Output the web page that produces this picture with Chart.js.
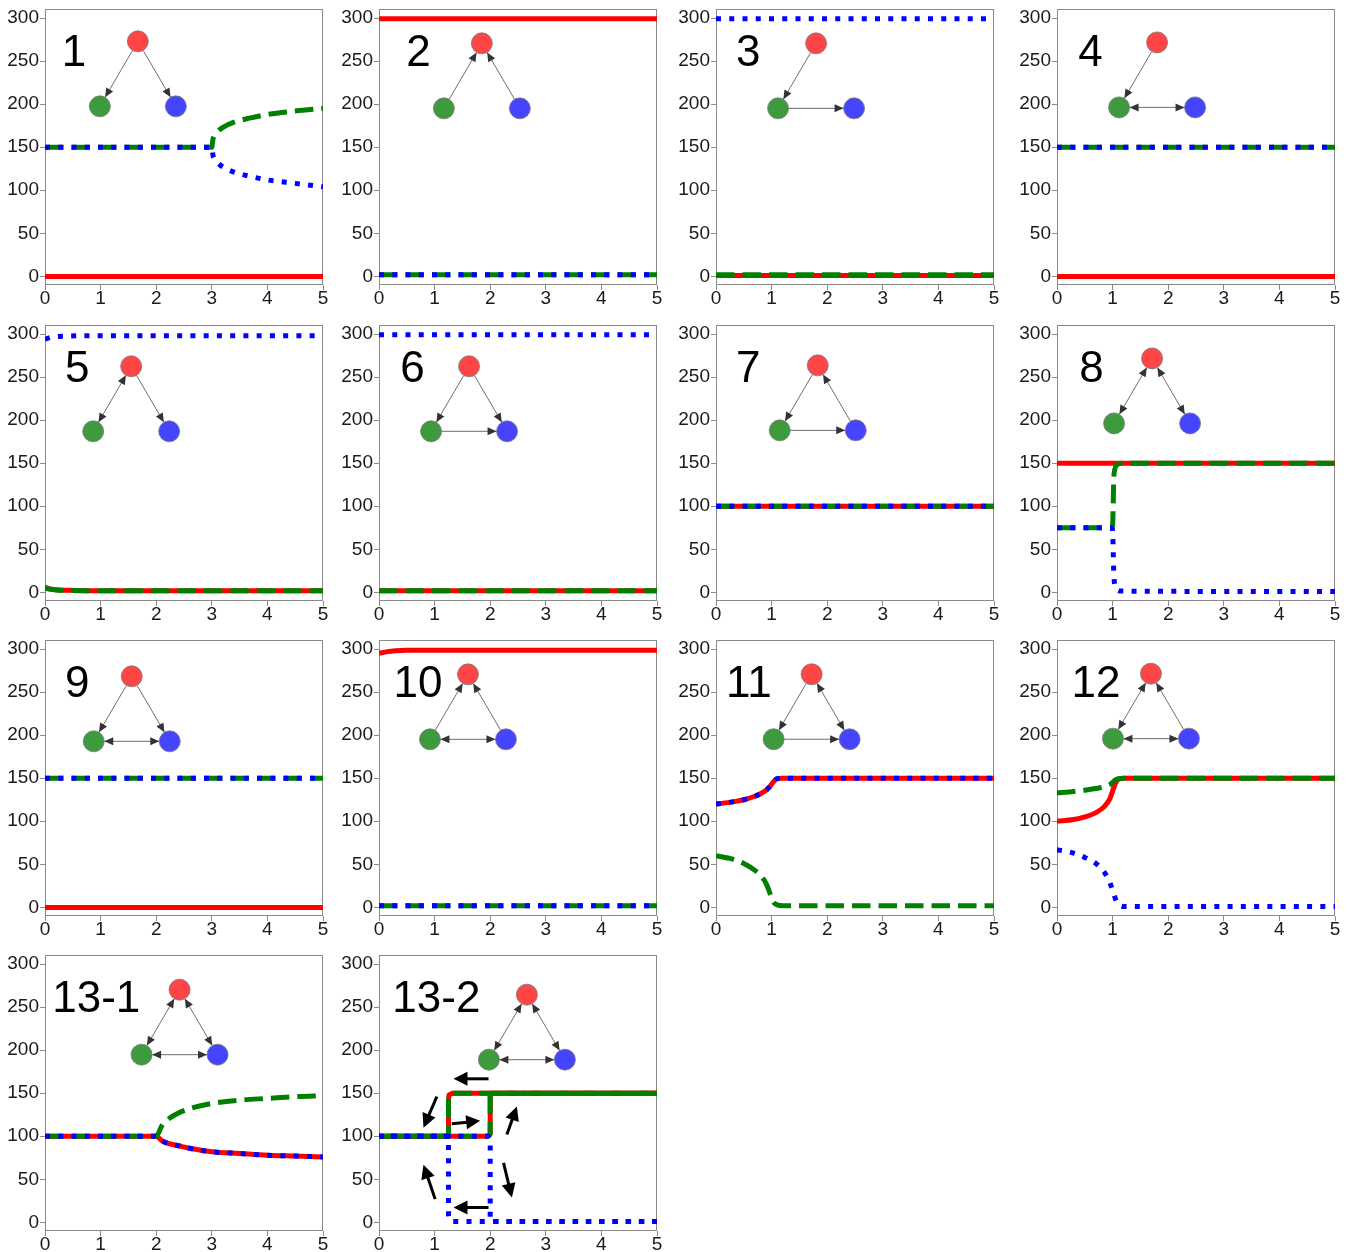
<!DOCTYPE html>
<html><head><meta charset="utf-8">
<script src="https://cdn.jsdelivr.net/npm/chart.js@4.4.1/dist/chart.umd.min.js"></script>
<style>
html,body{margin:0;padding:0;background:#fff;width:1350px;height:1252px;overflow:hidden;position:relative;}
canvas{position:absolute;}
</style></head><body>
<script>
// ---------- tick labels ----------
const xTicks = [0, 1, 2, 3, 4, 5];
const yTicks = [0, 50, 100, 150, 200, 250, 300];
const panelLabels = ['1','2','3','4','5','6','7','8','9','10','11','12','13-1','13-2'];

// ---------- series (x = parameter) ----------
const xFlat = [0, 5];

const x1 = [0, 3, 3.02, 3.05, 3.1, 3.2, 3.4, 3.7, 4, 4.5, 5];
const red1 = [0, 0, 0, 0, 0, 0, 0, 0, 0, 0, 0];
const green1 = [150, 150, 159, 164, 168, 173, 179, 184, 188, 192, 195];
const blue1 = [150, 150, 141, 136, 132, 127, 121, 116, 112, 108, 104];

const red2 = [299, 299], green2 = [2, 2], blue2 = [2, 2];
const red3 = [1, 1], green3 = [2, 2], blue3 = [299, 299];
const red4 = [0, 0], green4 = [150, 150], blue4 = [150, 150];

const x5 = [0, 0.1, 0.2, 0.4, 0.7, 5];
const red5 = [6, 4, 3, 2.5, 2, 2];
const green5 = [5, 3.5, 2.8, 2.3, 2, 2];
const blue5 = [294, 296, 297, 297.5, 298, 298];

const red6 = [2, 2], green6 = [2, 2], blue6 = [299, 299];
const red7 = [100, 100], green7 = [100, 100], blue7 = [100, 100];

const x8 = [0, 0.98, 1.0, 1.01, 1.02, 1.04, 1.08, 1.15, 5];
const red8 = [150, 150, 150, 150, 150, 150, 150, 150, 150];
const green8 = [75, 75, 78, 100, 130, 143, 148, 150, 150];
const blue8 = [75, 75, 72, 50, 25, 8, 3, 1.5, 1];

const red9 = [0, 0], green9 = [150, 150], blue9 = [150, 150];

const x10 = [0, 0.15, 0.3, 0.5, 5];
const red10 = [295, 297, 298, 298.5, 298.5];
const green10 = [2, 2, 2, 2, 2];
const blue10 = [2, 2, 2, 2, 2];

const x11 = [0, 0.3, 0.5, 0.7, 0.8, 0.9, 0.95, 1.0, 1.05, 1.1, 1.2, 5];
const red11 = [120, 122.5, 125, 129, 132, 136, 139, 143, 147, 149.5, 150, 150];
const green11 = [60, 56, 51, 43, 37, 28, 20, 11, 5, 3, 2, 2];
const blue11 = [120, 122.5, 125, 129, 132, 136, 139, 143, 147, 149.5, 150, 150];

const x12 = [0, 0.3, 0.5, 0.7, 0.85, 0.95, 1.0, 1.05, 1.1, 1.2, 5];
const red12 = [100, 102, 105, 110, 117, 126, 135, 144, 148.5, 150, 150];
const green12 = [133, 134.5, 136, 138, 140, 142.5, 145, 148, 149.5, 150, 150];
const blue12 = [67, 63, 58, 51, 41, 29, 20, 10, 4, 1, 1];

const x131 = [0, 2, 2.1, 2.2, 2.4, 2.6, 3, 3.5, 4, 4.5, 5];
const red131 = [100, 100, 95, 92, 89, 86, 82, 80, 78, 77, 76];
const green131 = [100, 100, 112, 119, 127, 132, 138, 142, 144, 146, 147];
const blue131 = [100, 100, 95, 92, 89, 86, 82, 80, 78, 77, 76];

// 13-2: forward (increasing) and backward (decreasing) sweeps
const x132f = [0, 1.97, 2.0, 2.0, 5];
const red132f = [100, 100, 103, 150, 150];
const green132f = [100, 100, 103, 150, 150];
const blue132f = [100, 100, 97, 1, 1];
const x132b = [5, 1.32, 1.26, 1.25, 1.25, 0];
const red132b = [150, 150, 148, 143, 100, 100];
const green132b = [150, 150, 148, 143, 100, 100];
const blue132b = [1, 1, 3, 8, 100, 100];

// ---------- panel assembly ----------
const panels = [
  {sweeps: [[x1, red1, green1, blue1]], smooth: true},
  {sweeps: [[xFlat, red2, green2, blue2]], smooth: true},
  {sweeps: [[xFlat, red3, green3, blue3]], smooth: true},
  {sweeps: [[xFlat, red4, green4, blue4]], smooth: true},
  {sweeps: [[x5, red5, green5, blue5]], smooth: true},
  {sweeps: [[xFlat, red6, green6, blue6]], smooth: true},
  {sweeps: [[xFlat, red7, green7, blue7]], smooth: true},
  {sweeps: [[x8, red8, green8, blue8]], smooth: true},
  {sweeps: [[xFlat, red9, green9, blue9]], smooth: true},
  {sweeps: [[x10, red10, green10, blue10]], smooth: true},
  {sweeps: [[x11, red11, green11, blue11]], smooth: true},
  {sweeps: [[x12, red12, green12, blue12]], smooth: true},
  {sweeps: [[x131, red131, green131, blue131]], smooth: true},
  {sweeps: [[x132f, red132f, green132f, blue132f], [x132b, red132b, green132b, blue132b]], smooth: false}
];

// network insets: red node position (data units) and edges
const nets = [
  {red: [1.67, 272.9], edges: ['R>G', 'R>B']},
  {red: [1.85, 270.6], edges: ['G>R', 'B>R']},
  {red: [1.80, 270.6], edges: ['R>G', 'G>B']},
  {red: [1.80, 271.7], edges: ['R>G', 'G<>B']},
  {red: [1.55, 262.5], edges: ['R<>G', 'R>B']},
  {red: [1.62, 262.5], edges: ['R>G', 'R>B', 'G>B']},
  {red: [1.83, 263.6], edges: ['R>G', 'B>R', 'G>B']},
  {red: [1.71, 271.7], edges: ['R<>G', 'R<>B']},
  {red: [1.56, 268.3], edges: ['R>G', 'R>B', 'G<>B']},
  {red: [1.60, 270.6], edges: ['G>R', 'B>R', 'G<>B']},
  {red: [1.72, 270.7], edges: ['R>G', 'R<>B', 'G>B']},
  {red: [1.69, 271.4], edges: ['R<>G', 'B>R', 'G<>B']},
  {red: [2.42, 270.2], edges: ['R<>G', 'R<>B', 'G<>B']},
  {red: [2.66, 264.4], edges: ['R<>G', 'R<>B', 'G<>B']}
];
const labelX = [0.30, 0.49, 0.36, 0.38, 0.36, 0.38, 0.36, 0.40, 0.36, 0.26, 0.18, 0.26, 0.13, 0.24];
const labelY = 244;
// hysteresis arrows for 13-2 (data units: x0,y0 -> x1,y1)
const hystArrows = [
  [1.97, 166.7, 1.34, 166.7],
  [1.04, 146, 0.80, 110],
  [1.31, 114.5, 1.82, 118],
  [2.30, 102, 2.48, 134.5],
  [2.24, 69, 2.39, 29],
  [1.97, 17.3, 1.34, 17.3],
  [1.01, 27, 0.80, 67]
];

// ---------- layout ----------
const colLefts = [45, 379, 716, 1057];
const rowTops = [9, 325, 640, 955];
const FONT = "'Liberation Sans', Arial, sans-serif";

function arrowHead(ctx, tx, ty, ux, uy, len, hw) {
  ctx.beginPath();
  ctx.moveTo(tx, ty);
  ctx.lineTo(tx - ux * len - uy * hw, ty - uy * len + ux * hw);
  ctx.lineTo(tx - ux * len + uy * hw, ty - uy * len - ux * hw);
  ctx.closePath();
  ctx.fill();
}

function makeDeco(idx) {
  return {
    id: 'deco' + idx,
    beforeDatasetsDraw(chart) {
      const a = chart.chartArea, ctx = chart.ctx;
      ctx.save();
      ctx.strokeStyle = '#8a8a8a';
      ctx.lineWidth = 1;
      ctx.strokeRect(Math.round(a.left) + 0.5, Math.round(a.top) + 0.5,
        Math.round(a.right - a.left) - 1, Math.round(a.bottom - a.top) - 1);
      ctx.restore();
    },
    afterDatasetsDraw(chart) {
      const ctx = chart.ctx, xs = chart.scales.x, ys = chart.scales.y;
      const net = nets[idx];
      ctx.save();
      // label
      ctx.fillStyle = '#000';
      ctx.font = '44px ' + FONT;
      ctx.textBaseline = 'alphabetic';
      ctx.textAlign = 'left';
      ctx.fillText(panelLabels[idx], xs.getPixelForValue(labelX[idx]), ys.getPixelForValue(labelY));
      // network
      const rx = xs.getPixelForValue(net.red[0]), ry = ys.getPixelForValue(net.red[1]);
      const P = {R: [rx, ry], G: [rx - 38, ry + 65], B: [rx + 38, ry + 65]};
      const r = 10.5;
      net.edges.forEach(e => {
        const both = e.indexOf('<>') >= 0;
        const a = e[0], b = e[e.length - 1];
        const pa = P[a], pb = P[b];
        const dx = pb[0] - pa[0], dy = pb[1] - pa[1], L = Math.hypot(dx, dy);
        const ux = dx / L, uy = dy / L;
        const sx = pa[0] + ux * r, sy = pa[1] + uy * r;
        const ex = pb[0] - ux * r, ey = pb[1] - uy * r;
        ctx.strokeStyle = '#6e6e6e';
        ctx.lineWidth = 1;
        ctx.beginPath();
        ctx.moveTo(sx, sy); ctx.lineTo(ex, ey);
        ctx.stroke();
        ctx.fillStyle = '#333';
        arrowHead(ctx, ex, ey, ux, uy, 9, 4);
        if (both) arrowHead(ctx, sx, sy, -ux, -uy, 9, 4);
      });
      const fills = {R: '#ff4545', G: '#3d9a3d', B: '#4545ff'};
      ['R', 'G', 'B'].forEach(k => {
        ctx.beginPath();
        ctx.arc(P[k][0], P[k][1], r, 0, Math.PI * 2);
        ctx.fillStyle = fills[k];
        ctx.fill();
        ctx.strokeStyle = '#777';
        ctx.lineWidth = 0.8;
        ctx.stroke();
      });
      // hysteresis arrows
      if (idx === 13) {
        ctx.strokeStyle = '#000';
        ctx.fillStyle = '#000';
        ctx.lineWidth = 3;
        hystArrows.forEach(h => {
          const x0 = xs.getPixelForValue(h[0]), y0 = ys.getPixelForValue(h[1]);
          const x1p = xs.getPixelForValue(h[2]), y1p = ys.getPixelForValue(h[3]);
          const dx = x1p - x0, dy = y1p - y0, L = Math.hypot(dx, dy);
          const ux = dx / L, uy = dy / L;
          const hl = 14;
          ctx.beginPath();
          ctx.moveTo(x0, y0);
          ctx.lineTo(x1p - ux * (hl - 1), y1p - uy * (hl - 1));
          ctx.stroke();
          arrowHead(ctx, x1p, y1p, ux, uy, hl, 7);
        });
      }
      ctx.restore();
    }
  };
}

function lineDS(xArr, yArr, color, dash, order, smooth) {
  return {
    data: xArr.map((x, i) => ({x: x, y: yArr[i]})),
    borderColor: color,
    backgroundColor: color,
    borderWidth: 5,
    borderDash: dash,
    borderCapStyle: 'butt',
    borderJoinStyle: 'round',
    pointRadius: 0,
    fill: false,
    order: order,
    tension: 0,
    cubicInterpolationMode: smooth ? 'monotone' : 'default'
  };
}

Chart.defaults.font.family = FONT;
Chart.defaults.font.size = 19;
Chart.defaults.color = '#1a1a1a';

panels.forEach((p, i) => {
  const row = Math.floor(i / 4), col = i % 4;
  const c = document.createElement('canvas');
  c.width = 332; c.height = 319;
  c.style.left = (colLefts[col] - 44) + 'px';
  c.style.top = (rowTops[row] - 12) + 'px';
  c.style.width = '332px'; c.style.height = '319px';
  document.body.appendChild(c);
  const datasets = [];
  p.sweeps.forEach(s => {
    datasets.push(lineDS(s[0], s[1], '#ff0000', [], 3, p.smooth));
    datasets.push(lineDS(s[0], s[2], '#008000', [18.5, 8], 2, p.smooth));
    datasets.push(lineDS(s[0], s[3], '#0000ff', [5, 8.25], 1, p.smooth));
  });
  new Chart(c, {
    type: 'line',
    data: {datasets: datasets},
    options: {
      responsive: false,
      animation: false,
      devicePixelRatio: 1,
      layout: {padding: {left: 0, right: 10, top: 12, bottom: 0}},
      plugins: {legend: {display: false}, tooltip: {enabled: false}},
      scales: {
        x: {
          type: 'linear', min: 0, max: 5,
          afterBuildTicks: ax => { ax.ticks = xTicks.map(v => ({value: v})); },
          afterFit: ax => { ax.height = 31; },
          ticks: {padding: -3, maxRotation: 0, autoSkip: false, callback: v => String(v)},
          grid: {drawOnChartArea: false, drawTicks: true, tickLength: 5, tickColor: '#8a8a8a', color: '#8a8a8a'},
          border: {display: false}
        },
        y: {
          type: 'linear', min: -10, max: 310,
          afterBuildTicks: ax => { ax.ticks = yTicks.map(v => ({value: v})); },
          afterFit: ax => { ax.width = 44; },
          ticks: {padding: 1, autoSkip: false, callback: v => String(v)},
          grid: {drawOnChartArea: false, drawTicks: true, tickLength: 5, tickColor: '#8a8a8a', color: '#8a8a8a'},
          border: {display: false}
        }
      }
    },
    plugins: [makeDeco(i)]
  });
});
</script>
</body></html>
